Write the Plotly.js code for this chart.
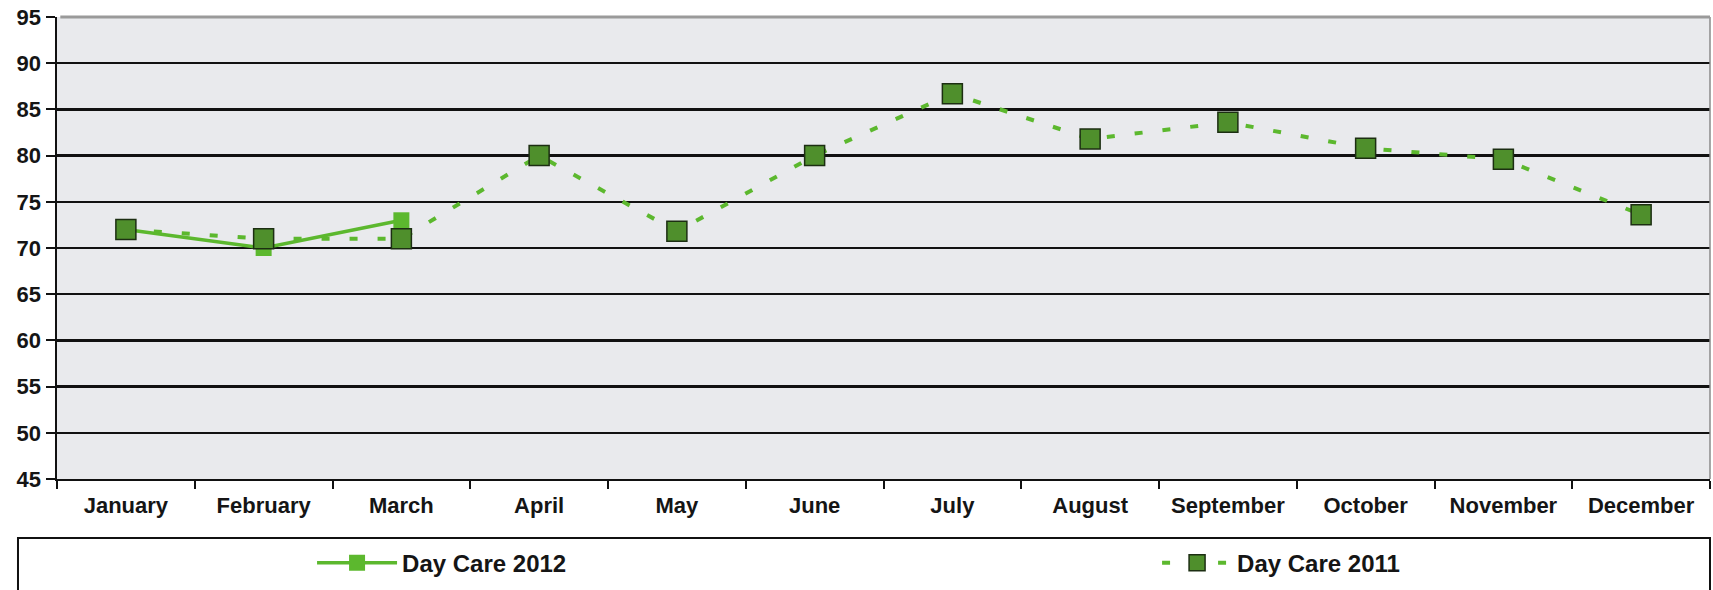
<!DOCTYPE html>
<html>
<head>
<meta charset="utf-8">
<script src="https://cdn.plot.ly/plotly-3.0.1.min.js"></script>
<style>
  html, body { margin: 0; padding: 0; background: #ffffff; }
  #chart { width: 1713px; height: 590px; }
</style>
</head>
<body>
<div id="chart"></div>
<script>
const months = ["January", "February", "March", "April", "May", "June", "July",
                "August", "September", "October", "November", "December"];
const dayCare2012 = [72, 70, 73];
const dayCare2011 = [72, 71, 71, 80, 71.8, 80, 86.7, 81.8, 83.6, 80.8, 79.6, 73.6];
const yTicks = [45, 50, 55, 60, 65, 70, 75, 80, 85, 90, 95];

const fontFamily = "Liberation Sans, Arial, sans-serif";
const legendFont = { family: fontFamily, size: 24, weight: "bold", color: "#151515" };

const traces = [
  {
    name: "Day Care 2012",
    legend: "legend",
    x: months.slice(0, dayCare2012.length),
    y: dayCare2012,
    type: "scatter",
    mode: "lines+markers",
    line: { color: "#5cb82e", width: 3.5 },
    marker: { symbol: "square", size: 16, color: "#5cb82e", line: { width: 0 } }
  },
  {
    name: "Day Care 2011",
    legend: "legend2",
    x: months,
    y: dayCare2011,
    type: "scatter",
    mode: "lines+markers",
    line: { color: "#5cb82e", width: 4, dash: "8px,20px" },
    marker: { symbol: "square", size: 20, color: "#4f8f2c", line: { color: "#1c2e12", width: 1.5 } }
  }
];

const layout = {
  width: 1713,
  height: 590,
  margin: { l: 57, r: 3, t: 17, b: 111 },
  paper_bgcolor: "#ffffff",
  plot_bgcolor: "#e9eaed",
  font: { family: fontFamily, color: "#151515" },
  showlegend: true,
  legend: {
    orientation: "h",
    x: 0.1543,
    xanchor: "left",
    y: -0.182,
    yanchor: "middle",
    font: legendFont,
    bgcolor: "rgba(0,0,0,0)",
    itemwidth: 80
  },
  legend2: {
    orientation: "h",
    x: 0.6655,
    xanchor: "left",
    y: -0.182,
    yanchor: "middle",
    font: legendFont,
    bgcolor: "rgba(0,0,0,0)",
    itemwidth: 70
  },
  xaxis: {
    type: "category",
    categoryorder: "array",
    categoryarray: months,
    range: [-0.5, 11.5],
    showgrid: false,
    showline: true,
    linecolor: "#111111",
    linewidth: 2,
    ticks: "outside",
    tickson: "boundaries",
    ticklen: 8,
    tickwidth: 2,
    tickcolor: "#111111",
    ticklabelstandoff: 6,
    tickfont: { family: fontFamily, size: 22, weight: "bold", color: "#151515" },
    zeroline: false,
    fixedrange: true
  },
  yaxis: {
    range: [45, 95],
    tickmode: "array",
    tickvals: yTicks,
    ticktext: yTicks.map(String),
    showgrid: true,
    gridcolor: "#111111",
    gridwidth: 2.5,
    showline: true,
    linecolor: "#111111",
    linewidth: 2.5,
    ticks: "outside",
    ticklen: 9,
    tickwidth: 2,
    tickcolor: "#111111",
    tickfont: { family: fontFamily, size: 22, weight: "bold", color: "#151515" },
    zeroline: false,
    fixedrange: true
  },
  shapes: [
    {
      type: "rect", xref: "paper", yref: "paper",
      x0: -0.0236, x1: 1.0, y0: -0.1277, y1: -0.35,
      line: { color: "#111111", width: 2 },
      fillcolor: "rgba(0,0,0,0)",
      layer: "below"
    },
    {
      type: "line", xref: "paper", yref: "paper",
      x0: 1, x1: 1, y0: 0, y1: 1,
      line: { color: "#8a8a8a", width: 1.5 }
    },
    {
      type: "line", xref: "paper", yref: "paper",
      x0: 0.002, x1: 1, y0: 1, y1: 1,
      line: { color: "#9a9a9a", width: 3 }
    }
  ]
};

Plotly.newPlot("chart", traces, layout, { displayModeBar: false, staticPlot: true });
</script>
</body>
</html>
